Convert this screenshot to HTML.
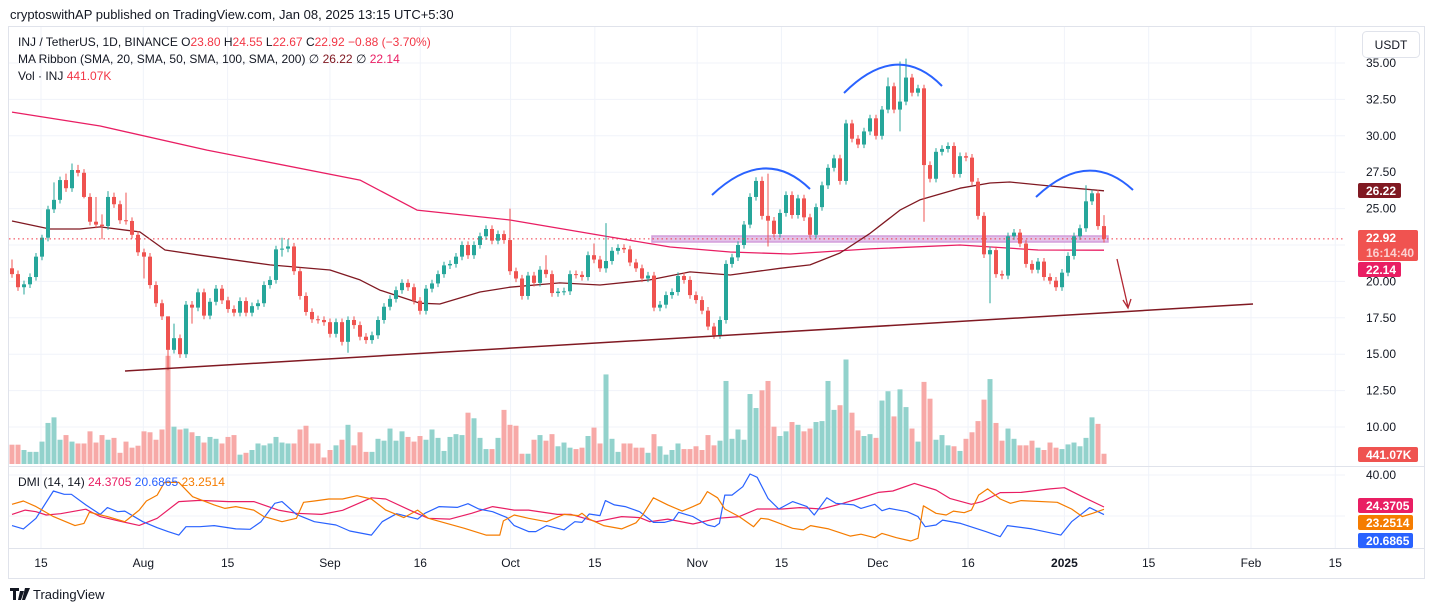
<!DOCTYPE html>
<html><head><meta charset="utf-8"><style>
html,body{margin:0;padding:0;background:#fff;width:1433px;height:612px;overflow:hidden}
svg{display:block;font-family:"Liberation Sans",sans-serif}
</style></head><body>
<svg id="c" width="1433" height="612" viewBox="0 0 1433 612" xmlns="http://www.w3.org/2000/svg">
<text x="10" y="19" font-size="13" fill="#131722">cryptoswithAP published on TradingView.com, Jan 08, 2025 13:15 UTC+5:30</text>
<rect x="8.5" y="26.5" width="1416" height="552" fill="#fff" stroke="#e0e3eb"/>
<g id="grid"></g>
<g id="vol"></g>
<g id="draw1"></g>
<g id="ma"></g>
<g id="cand"></g>
<g id="draw2"></g>
<g id="dmi"></g>
<g id="axis"></g>
<g id="taxis"></g>
<line x1="9" y1="466.5" x2="1424" y2="466.5" stroke="#e0e3eb"/>
<line x1="9" y1="548.5" x2="1424" y2="548.5" stroke="#e0e3eb"/>
<g font-size="12">
<text x="18" y="46" fill="#131722">INJ / TetherUS, 1D, BINANCE  O<tspan fill="#f23645">23.80</tspan>  H<tspan fill="#f23645">24.55</tspan>  L<tspan fill="#f23645">22.67</tspan>  C<tspan fill="#f23645">22.92</tspan>  <tspan fill="#f23645">−0.88 (−3.70%)</tspan></text>
<text x="18" y="63" fill="#131722">MA Ribbon (SMA, 20, SMA, 50, SMA, 100, SMA, 200)  ∅  <tspan fill="#801922">26.22</tspan>  ∅  <tspan fill="#e91e63">22.14</tspan></text>
<text x="18" y="80" fill="#131722">Vol · INJ  <tspan fill="#f23645">441.07K</tspan></text>
<text x="18" y="486" fill="#131722">DMI (14, 14)  <tspan fill="#e91e63">24.3705</tspan>  <tspan fill="#2962ff">20.6865</tspan>  <tspan fill="#f57c00">23.2514</tspan></text>
</g>
<g>
<rect x="1362.5" y="31.5" width="57" height="26" rx="4" fill="#fff" stroke="#e0e3eb"/>
<text x="1391" y="49" font-size="12" text-anchor="middle" fill="#131722">USDT</text>
</g>
<g>
<path d="M10 588h9v3h-3v9h-3v-9h-3z M20 591h4l-3 9h-3z M25 588h5l-5 12h-3z" fill="#131722"/>
<text x="33" y="599" font-size="13" fill="#131722">TradingView</text>
</g>
</svg>
<script>
const closes=[20.5,19.6,19.8,20.3,21.7,23.0,24.95,25.6,26.96,26.4,27.65,27.46,25.8,24.1,23.9,23.8,25.8,25.3,24.2,24.15,23.2,22.0,21.7,19.75,18.5,17.6,15.3,16.1,15.0,18.4,18.2,19.25,17.65,18.6,19.5,18.7,18.1,17.85,18.65,17.85,18.3,18.5,19.75,20.1,22.2,22.25,22.4,20.7,19.0,17.9,17.4,17.35,17.2,16.4,17.2,15.85,17.35,17.0,16.2,15.97,16.3,17.35,18.26,18.8,19.4,19.9,19.6,18.67,17.98,19.5,19.86,20.5,21.1,21.2,21.7,22.5,21.8,22.5,23.1,23.6,22.8,23.25,22.84,20.7,20.2,19.0,20.4,19.9,20.8,20.5,19.2,19.3,19.32,20.5,20.45,20.3,21.8,21.5,20.9,21.4,22.1,22.3,22.2,21.3,20.9,20.2,20.4,18.2,18.4,19.06,19.27,20.37,20.1,19.06,18.72,17.99,16.9,16.3,17.35,21.2,21.65,22.5,23.9,25.8,26.9,24.5,24.17,23.26,24.7,25.93,24.56,25.7,24.4,23.2,25.1,26.6,27.8,28.45,26.9,30.85,29.8,29.4,30.3,31.2,30.0,31.8,33.4,31.8,32.35,34.0,32.96,33.26,27.99,27.05,28.9,29.1,29.3,27.38,28.6,28.5,26.85,24.5,21.86,22.15,20.5,20.4,23.1,23.35,22.6,21.2,20.8,21.36,20.3,20.05,19.6,20.6,21.75,23.1,23.65,25.5,26.05,23.8,22.92];
const firstOpen=20.9;
const wickIdx=[0,2,5,7,8,9,10,11,12,14,15,16,17,19,22,26,27,30,45,46,56,83,89,97,99,125,126,146,148,149,152,163,179,182];
const wickHi=[21.5,null,23.2,26.8,27.2,27.4,28.1,28.0,null,25.8,24.6,26.2,26.1,26.1,null,15.4,17.1,null,23.0,22.9,null,25.0,21.8,22.6,24.0,27.2,27.4,34.0,35.1,35.3,null,null,26.6,24.55];
const wickLo=[null,19.1,null,null,null,null,null,null,25.7,null,22.9,null,null,null,20.2,13.9,null,17.1,21.7,null,15.1,null,null,null,20.6,null,22.4,null,30.3,null,24.1,18.5,null,22.67];
const volumes=[20.7,20.7,15,13,13,24,44,50,26,31,24,22,22,35,23,31,26,28,12,24,17.5,19.6,35,34,26,37,116,40,37,38,34,30,23,29,27,22,29,31,10,12,15,22,20,22,29,23,22,22,37,41,22,22,7,15,20,26,42,20,34,13,13,27,25,38,25,35,29,24,30,26,37,28,14,29,32,31,55,49,28,16,16,28,58,42,41,11,11,26,31,25,32,19,23,17.5,16,17.5,30,39,22,96,27,13,22,22,17.5,17.5,12,32,19,10,15,22,16,16,19,15,31,20,25,89,27,37,26,75,60,79,89,40,30,35,45,42,35,38,45,46,89,58,63,112,55,36,30,32,28,68,78,51,80,61,38,24,88,70,26,31,20,19,14,27,34,46,69,91,44,25,38,27,20,20,25,17.5,15,23,17.5,16,21,23,19,28,50,43,11];
const ma200Idx=[0,14.7,32.5,58,67.5,83,99.7,109.7,119.7,129.7,143,158,171,182];
const ma200Val=[31.63,30.67,29.02,26.96,24.9,24.22,23.05,22.36,22.02,21.88,22.23,22.5,22.16,22.14];
const ma50Idx=[0,6.3,11.3,14.7,21.3,25.5,31.3,43,53,58,61.3,68,71.3,78,83,91.3,98,106.3,113,119.7,128,133,138,143,148,151.3,158,163,166.3,173,182];
const ma50Val=[24.15,23.6,23.6,23.74,23.4,22.16,21.8,21.13,20.78,20.1,19.4,18.5,18.45,19.27,19.6,19.9,19.75,20.1,20.65,20.44,20.9,21.13,21.95,23.3,24.9,25.6,26.4,26.76,26.83,26.55,26.22];
const adxIdx=[0,2.2,4,5.7,8.1,12.3,14.7,17.6,21.2,24.2,27.8,31.3,36.1,40.3,44.4,47.4,51.6,55.1,59.9,62.3,66.5,69.4,73,76.6,80.1,83.7,86.1,90.9,93.2,97.4,101.6,104.6,106.3,109.3,113.5,117.6,121.2,124.2,128.4,131.3,134.9,138.5,140.9,144.4,146.8,150.4,154,156.3,159.9,161.7,164.7,168.2,173,175.4,178.4,182];
const adxVal=[20.8,22.9,22.1,20.5,21.1,23.3,19.7,17.7,15.4,18.9,27.0,27.6,27.0,27.0,22.9,21.3,20.8,22.8,28.9,28.3,22.6,18.9,18.5,21.3,24.6,22.9,22.9,20.8,20.8,17.2,19.7,19.2,17.2,18.5,16.1,18.9,19.7,23.4,23.4,24.1,23.4,26.2,28.3,31.5,32.2,35.9,32.7,28.6,25.7,27.0,31.4,31.5,33.2,33.8,29.4,24.37];
const diPlusIdx=[0,1.9,4,6.9,8.7,9.9,12.3,14.7,15.9,17.6,18.8,21.8,24.2,26,27.8,29,31.3,33.7,37.3,39.7,41.5,43.8,45,47.4,50.4,54,56.3,59.9,61.7,64.1,67.6,68.8,71.2,74.2,76,77.8,80.1,82.5,83.7,86.1,87.3,89.1,92,93.8,95,96.2,98,98.9,100.4,102.2,104.6,106.9,108.7,110.2,111.1,113.5,115.9,117.1,117.9,118.8,120,121.8,123,124.2,126,127.8,130.1,132.5,133.7,135.8,137.3,140.3,141.5,143.8,145,146.2,149.2,151,152.2,154,155.1,158.1,162.3,164.7,165.9,170,174.8,176.6,178.4,179.6,182];
const diPlusVal=[15.3,13.7,18.9,32.2,30.6,30.6,25.4,20.8,24.1,22.1,22.4,17.2,14.3,12.4,10.7,14.8,14.8,15.3,13.7,13.5,17.2,26.2,27.0,20.8,17.2,15.6,12.7,10.7,17.2,21.1,18.5,21.3,24.6,24.2,26.0,23.4,22.1,19.2,15.3,12.4,12.4,15.3,13.2,17.2,16.9,21.0,20.2,27.5,25.4,24.6,22.1,16.9,16.9,18.0,21.8,19.7,15.6,14.8,16.4,30.2,30.2,34.3,40.5,38.9,28.6,23.4,27.0,24.6,20.5,28.9,26.2,25.4,23.7,25.7,22.6,23.7,22.1,19.7,14.8,15.6,18.0,16.4,12.4,9.9,15.3,13.7,10.7,17.2,21.3,24.1,20.69];
const diMinusIdx=[0,1.9,4,6.9,10.5,12,12.9,15.9,18.8,21.2,22.4,24.2,25.4,27.8,30.1,33.7,35.5,37.3,40.3,42,45,47.4,48.6,50.4,52.8,55.1,57.5,59.9,62.3,65.3,67.6,69.4,75.4,79,81.3,81.9,83.7,86.1,89.1,92,94.4,95,96.2,98.6,101.6,104,105.1,106.9,109.3,111.7,113.5,114.7,115.9,117.6,118.8,121.2,123.6,124.8,126,127.2,130.1,131.9,133.1,136.1,139.7,141.5,143.8,145,147.4,149.8,151,151.9,154,155.7,156.9,158.7,159.9,161.1,162.6,164.7,166.4,168.2,174.2,176.6,178.4,180.1,182];
const diMinusVal=[25.7,27.3,24.6,19.7,15.3,16.4,21.8,19.7,17.2,22.9,27.3,30.2,36.4,36.4,29.4,25.4,23.7,24.6,22.9,19.7,17.2,18.9,26.7,27.3,28.3,28.3,29.9,28.3,22.9,19.2,22.9,18.9,14.0,10.7,10.7,17.6,20.5,18.9,17.2,20.8,20.2,21.3,18.5,15.3,13.7,16.7,20.5,28.9,25.4,22.4,24.6,26.2,31.9,28.9,23.4,19.7,14.8,18.9,18.5,17.2,14.0,13.2,15.3,13.7,10.2,11.1,9.4,11.5,9.4,7.8,9.1,25.0,21.3,20.5,22.4,21.6,22.9,30.2,33.2,28.3,26.2,27.5,26.7,23.4,19.7,21.3,23.25];
const priceTicks=[35,32.5,30,27.5,25,20,17.5,15,12.5,10];
const timeLabels=["15","Aug","15","Sep","16","Oct","15","Nov","15","Dec","16","2025","15","Feb","15"];
const timeDays=[0,17,31,48,63,78,92,109,123,139,154,170,184,201,215];

const NS="http://www.w3.org/2000/svg";
const xOf=i=>12+i*6;
const xDay=d=>41+d*6.02;
const yP=p=>63+(35-p)*14.56;
const volScale=0.933;
const yV=v=>464-v*volScale;
const yD=v=>516-(v-20)*2.05;
function el(tag,attrs,parent){const e=document.createElementNS(NS,tag);for(const k in attrs)e.setAttribute(k,attrs[k]);parent.appendChild(e);return e;}
const G=id=>document.getElementById(id);

const grid=G('grid');
priceTicks.concat([22.5]).forEach(p=>{const l=el('line',{x1:9,x2:1345,y1:yP(p),y2:yP(p),stroke:'#f0f3fa'},grid);

});
[40,20].forEach(v=>{const l=el('line',{x1:9,x2:1345,y1:yD(v),y2:yD(v),stroke:'#f0f3fa'},grid);

});
timeDays.forEach(d=>{const l=el('line',{x1:xDay(d),x2:xDay(d),y1:27,y2:548,stroke:'#f0f3fa'},grid);

});

const wick={};wickIdx.forEach((k,j)=>wick[k]=[wickHi[j],wickLo[j]]);
const cg=G('cand'),vg=G('vol');
closes.forEach((c,i)=>{
 const o=i===0?firstOpen:closes[i-1];
 const up=c>=o;const col=up?'#26a69a':'#ef5350';
 let hi=Math.max(o,c)+0.25,lo=Math.min(o,c)-0.25;
 if(wick[i]){if(wick[i][0]!=null)hi=wick[i][0];if(wick[i][1]!=null)lo=wick[i][1];}
 const x=xOf(i);
 const w=el('line',{x1:x,x2:x,y1:yP(hi),y2:yP(lo),stroke:col,'stroke-width':1},cg);
 
 
 const yt=yP(Math.max(o,c)),yb=yP(Math.min(o,c));
 const b=el('rect',{x:x-2,y:yt,width:4,height:Math.max(1,yb-yt),fill:col},cg);
 
 
 const v=volumes[i];
 const vb=el('rect',{x:x-2.5,y:yV(v),width:5,height:464-yV(v),fill:up?'#92d2cc':'#f7a9a7'},vg);
 
 
});

function poly(idx,val,yf,col,w,parent,name){
 const pts=idx.map((k,j)=>xOf(k).toFixed(1)+','+yf(val[j]).toFixed(1)).join(' ');
 const p=el('polyline',{points:pts,fill:'none',stroke:col,'stroke-width':w,'stroke-linejoin':'round'},parent);
 
 
}
const mg=G('ma');
poly(ma200Idx,ma200Val,yP,'#e91e63',1.3,mg,'sma-200-line');
poly(ma50Idx,ma50Val,yP,'#801922',1.3,mg,'sma-50-line');
const dg=G('dmi');
poly(adxIdx,adxVal,yD,'#e91e63',1.2,dg,'adx-line');
poly(diPlusIdx,diPlusVal,yD,'#2962ff',1.2,dg,'di-plus-line');
poly(diMinusIdx,diMinusVal,yD,'#f57c00',1.2,dg,'di-minus-line');

const d1=G('draw1');
const zone=el('rect',{x:652,y:236,width:456,height:6,fill:'#e1bee7',stroke:'#ce93d8','stroke-width':1.5,opacity:0.9},d1);


const d2=G('draw2');
const cl=el('line',{x1:9,x2:1345,y1:yP(22.92),y2:yP(22.92),stroke:'#f23645','stroke-dasharray':'1.5,3','stroke-width':1},d2);


const tl=el('line',{x1:125,y1:371,x2:1253,y2:304,stroke:'#801922','stroke-width':1.5},d2);


[[712,195,765,145,810,189],[844,93,897,40,942,86],[1036,197,1088,148,1133,190]].forEach((a,k)=>{
 const p=el('path',{d:`M${a[0]} ${a[1]} Q${a[2]} ${a[3]} ${a[4]} ${a[5]}`,fill:'none',stroke:'#2962ff','stroke-width':2},d2);
 
 
});
const ar=el('path',{d:'M1117 259 L1128 307 M1123 300 L1128 308 L1131 299',fill:'none',stroke:'#b22833','stroke-width':1.3},d2);



const ax=G('axis');
priceTicks.forEach(p=>{const t=el('text',{x:1366,y:yP(p)+4,'font-size':12,fill:'#131722'},ax);t.textContent=p.toFixed(2);

});
const t40=el('text',{x:1366,y:yD(40)+4,'font-size':12,fill:'#131722'},ax);t40.textContent='40.00';


function tag(y,h,w,fill,lines,name){const g=el('g',{},ax);
 
 
 el('rect',{x:1358,y:y,width:w,height:h,rx:2,fill:fill},g);
 lines.forEach((s,k)=>{const t=el('text',{x:1366,y:y+12+k*15,'font-size':12,'font-weight':'bold',fill:k?'#fbd0d0':'#fff'},g);t.textContent=s;});}
tag(183,15,43,'#801922',['26.22'],'sma-50-tag');
tag(230,31,60,'#f05350',['22.92','16:14:40'],'last-price-tag');
tag(262,15,43,'#e91e63',['22.14'],'sma-200-tag');
tag(447,15,60,'#ef5350',['441.07K'],'volume-tag');
tag(498,15,55,'#e91e63',['24.3705'],'adx-tag');
tag(515,15,55,'#f57c00',['23.2514'],'di-minus-tag');
tag(533,15,55,'#2962ff',['20.6865'],'di-plus-tag');

const ta=G('taxis');
timeLabels.forEach((s,k)=>{const t=el('text',{x:xDay(timeDays[k]),y:567,'font-size':12,'text-anchor':'middle',fill:'#131722','font-weight':s==='2025'?'bold':'normal'},ta);t.textContent=s;

});
</script>
</body></html>
